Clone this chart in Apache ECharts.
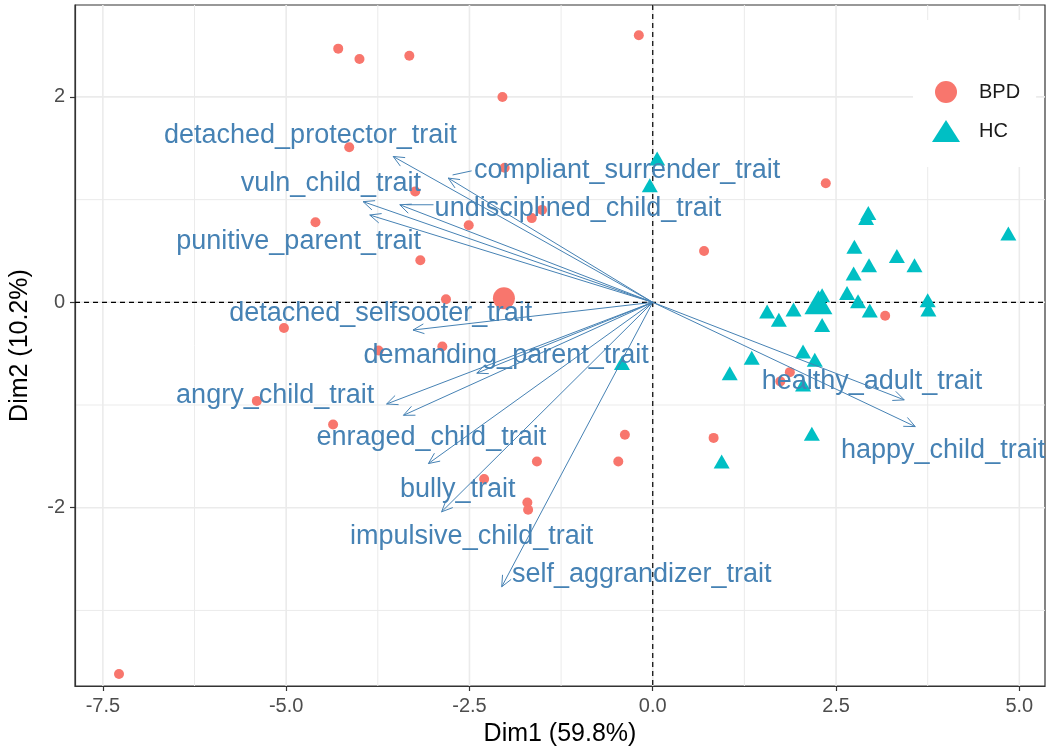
<!DOCTYPE html>
<html>
<head>
<meta charset="utf-8">
<script src="https://cdn.jsdelivr.net/npm/echarts@6/dist/echarts.min.js"></script>
<style>
  html, body { margin: 0; padding: 0; background: #fff; }
  #chart { width: 1047px; height: 752px; }
</style>
</head>
<body>
<div id="chart"></div>
<script>
// PCA biplot: individuals (BPD / HC) and trait variable arrows

const groups = ['BPD', 'HC'];

// individual coordinates [Dim1, Dim2]
const bpdPoints = [
  [-4.29, 2.47], [-4.00, 2.37], [-3.32, 2.40], [-0.19, 2.60], [-2.05, 2.00],
  [-4.14, 1.51], [-2.02, 1.31], [-3.24, 1.08], [2.36, 1.16], [-1.51, 0.90],
  [-1.65, 0.82], [-4.60, 0.78], [-2.51, 0.75], [0.70, 0.50], [-3.17, 0.41],
  [-2.82, 0.03], [-5.03, -0.25], [-2.87, -0.43], [-3.74, -0.47], [3.17, -0.13],
  [1.87, -0.68], [1.74, -0.77], [-5.40, -0.96], [-4.36, -1.19], [-0.38, -1.29],
  [0.83, -1.32], [-1.58, -1.55], [-0.47, -1.55], [-2.30, -1.72], [-1.71, -1.95],
  [-1.70, -2.02], [-7.28, -3.62]
];
const hcPoints = [
  [0.06, 1.40], [-0.04, 1.14], [2.94, 0.87], [2.91, 0.82], [4.85, 0.67],
  [2.75, 0.54], [3.33, 0.45], [2.95, 0.36], [3.57, 0.36], [2.74, 0.28],
  [2.65, 0.09], [2.31, 0.07], [2.80, 0.01], [2.96, -0.08], [3.75, 0.02],
  [3.76, -0.07], [1.56, -0.09], [1.72, -0.17], [1.92, -0.07], [2.31, -0.22],
  [1.35, -0.54], [1.05, -0.69], [2.05, -0.48], [2.21, -0.56], [2.05, -0.80],
  [-0.42, -0.59], [0.94, -1.55], [2.17, -1.28]
];
// group mean points
const bpdMean = [[-2.03, 0.04]];
const hcMean = [[2.26, 0.00]];

// variables: arrow tips and repelled label anchors
const variables = [
  'detached_protector_trait', 'compliant_surrender_trait', 'vuln_child_trait',
  'undisciplined_child_trait', 'punitive_parent_trait', 'detached_selfsooter_trait',
  'demanding_parent_trait', 'angry_child_trait', 'enraged_child_trait', 'bully_trait',
  'impulsive_child_trait', 'self_aggrandizer_trait', 'healthy_adult_trait', 'happy_child_trait'
];
const arrowDim1 = [-3.54, -2.79, -3.95, -3.45, -3.86, -3.27, -2.40, -3.63, -3.40, -3.06, -2.88, -2.06, 3.43, 3.58];
const arrowDim2 = [1.42, 1.21, 0.98, 0.95, 0.85, -0.27, -0.69, -0.99, -1.10, -1.57, -2.04, -2.77, -0.95, -1.21];
const labelDim1 = [-4.67, -0.35, -4.39, -1.02, -4.83, -3.71, -2.00, -5.15, -3.02, -2.66, -2.47, -0.15, 2.99, 3.96];
const labelDim2 = [1.62, 1.28, 1.16, 0.91, 0.59, -0.11, -0.52, -0.91, -1.32, -1.82, -2.28, -2.65, -0.77, -1.44];
// label-to-arrow leader segments [x1, y1, x2, y2]
const leaders = [
  [-2.47, 1.28, -2.73, 1.24],
  [-2.99, 0.95, -3.36, 0.95]
];

// axes
const xTicks = [-7.5, -5.0, -2.5, 0.0, 2.5, 5.0];
const xMinorGrid = [-6.25, -3.75, -1.25, 1.25, 3.75];
const yTicks = [-2, 0, 2];
const yMinorGrid = [-3, -1, 1];
const xTitle = 'Dim1 (59.8%)';
const yTitle = 'Dim2 (10.2%)';

const FONT = '"Liberation Sans", Arial, sans-serif';
const BPD_COLOR = '#F8766D';
const HC_COLOR = '#00BFC4';
const VAR_COLOR = '#4682B4';

const chart = echarts.init(document.getElementById('chart'), null, { renderer: 'canvas' });

function gridLineRender(dir, width) {
  return function (params, api) {
    const cs = params.coordSys;
    const v = api.value(0);
    if (dir === 'v') {
      const x = api.coord([v, 0])[0];
      return { type: 'line', shape: { x1: x, y1: cs.y, x2: x, y2: cs.y + cs.height },
        style: { stroke: '#EBEBEB', lineWidth: width } };
    }
    const y = api.coord([0, v])[1];
    return { type: 'line', shape: { x1: cs.x, y1: y, x2: cs.x + cs.width, y2: y },
      style: { stroke: '#EBEBEB', lineWidth: width } };
  };
}

function zeroLineRender(params, api) {
  const cs = params.coordSys;
  const o = api.coord([0, 0]);
  const st = { stroke: '#000', lineWidth: 1.2, lineDash: [5, 4] };
  return { type: 'group', children: [
    { type: 'line', shape: { x1: o[0], y1: cs.y, x2: o[0], y2: cs.y + cs.height }, style: st },
    { type: 'line', shape: { x1: cs.x, y1: o[1], x2: cs.x + cs.width, y2: o[1] }, style: st }
  ] };
}

function arrowRender(params, api) {
  const o = api.coord([0, 0]);
  const t = api.coord([api.value(0), api.value(1)]);
  const a = Math.atan2(t[1] - o[1], t[0] - o[0]);
  const len = 12, spread = Math.PI / 7.5;
  const p1 = [t[0] - len * Math.cos(a - spread), t[1] - len * Math.sin(a - spread)];
  const p2 = [t[0] - len * Math.cos(a + spread), t[1] - len * Math.sin(a + spread)];
  const st = { stroke: VAR_COLOR, lineWidth: 1, fill: null };
  return { type: 'group', children: [
    { type: 'line', shape: { x1: o[0], y1: o[1], x2: t[0], y2: t[1] }, style: st },
    { type: 'polyline', shape: { points: [p1, t, p2] }, style: st }
  ] };
}

function labelRender(params, api) {
  const p = api.coord([api.value(0), api.value(1)]);
  return { type: 'text', x: p[0], y: p[1],
    style: { text: variables[params.dataIndex], fill: VAR_COLOR, font: '27px ' + FONT,
      align: 'center', verticalAlign: 'middle' } };
}

function leaderRender(params, api) {
  const a = api.coord([api.value(0), api.value(1)]);
  const b = api.coord([api.value(2), api.value(3)]);
  return { type: 'line', shape: { x1: a[0], y1: a[1], x2: b[0], y2: b[1] },
    style: { stroke: VAR_COLOR, lineWidth: 1 } };
}

const option = {
  animation: false,
  backgroundColor: '#fff',
  grid: { left: 75, right: 2, top: 5, bottom: 66, show: true, borderColor: '#333', borderWidth: 1.2, backgroundColor: 'transparent' },
  xAxis: {
    type: 'value', min: -7.88, max: 5.35,
    name: xTitle, nameLocation: 'middle', nameGap: 36,
    nameTextStyle: { fontFamily: FONT, fontSize: 25, color: '#000' },
    axisLine: { show: true, onZero: false, lineStyle: { color: '#333', width: 1.2 } },
    axisTick: { show: true, length: 5, customValues: xTicks, lineStyle: { color: '#333', width: 1.2 } },
    axisLabel: { customValues: xTicks, margin: 10, fontFamily: FONT, fontSize: 20, color: '#4D4D4D',
      formatter: v => Number(v).toFixed(1) },
    splitLine: { show: false }
  },
  yAxis: {
    type: 'value', min: -3.736, max: 2.895,
    name: yTitle, nameLocation: 'middle', nameGap: 42,
    nameTextStyle: { fontFamily: FONT, fontSize: 25, color: '#000' },
    axisLine: { show: true, onZero: false, lineStyle: { color: '#333', width: 1.2 } },
    axisTick: { show: true, length: 5, customValues: yTicks, lineStyle: { color: '#333', width: 1.2 } },
    axisLabel: { customValues: yTicks, margin: 10, fontFamily: FONT, fontSize: 20, color: '#4D4D4D',
      formatter: v => String(Math.round(v)) },
    splitLine: { show: false }
  },
  legend: {
    orient: 'vertical', left: 913, top: 20,
    padding: [61, 16, 25, 19], itemGap: 17, itemWidth: 28, itemHeight: 22,
    backgroundColor: '#fff',
    selectedMode: false,
    textStyle: { fontFamily: FONT, fontSize: 20, color: '#1a1a1a', padding: [0, 0, 0, 14] },
    data: [
      { name: groups[0], icon: 'circle', itemStyle: { color: BPD_COLOR } },
      { name: groups[1], icon: 'triangle', itemStyle: { color: HC_COLOR } }
    ]
  },
  series: [
    { type: 'custom', silent: true, z: 0, renderItem: gridLineRender('v', 1), data: xMinorGrid.map(v => [v]) },
    { type: 'custom', silent: true, z: 0, renderItem: gridLineRender('h', 1), data: yMinorGrid.map(v => [v]) },
    { type: 'custom', silent: true, z: 0, renderItem: gridLineRender('v', 1.6), data: xTicks.map(v => [v]) },
    { type: 'custom', silent: true, z: 0, renderItem: gridLineRender('h', 1.6), data: yTicks.map(v => [v]) },
    { type: 'custom', silent: true, z: 1, renderItem: zeroLineRender, data: [[0, 0]] },
    { name: groups[0], type: 'scatter', z: 3, symbol: 'circle', symbolSize: 10,
      itemStyle: { color: BPD_COLOR, opacity: 1 }, data: bpdPoints },
    { name: groups[1], type: 'scatter', z: 3, symbol: 'triangle', symbolSize: [16, 14],
      itemStyle: { color: HC_COLOR, opacity: 1 }, data: hcPoints },
    { name: groups[0], type: 'scatter', z: 3, symbol: 'circle', symbolSize: 22,
      itemStyle: { color: BPD_COLOR, opacity: 1 }, data: bpdMean },
    { name: groups[1], type: 'scatter', z: 3, symbol: 'triangle', symbolSize: [28, 24],
      itemStyle: { color: HC_COLOR, opacity: 1 }, data: hcMean },
    { type: 'custom', silent: true, z: 5, renderItem: arrowRender,
      data: arrowDim1.map((x, i) => [x, arrowDim2[i]]) },
    { type: 'custom', silent: true, z: 5, renderItem: leaderRender, data: leaders },
    { type: 'custom', silent: true, z: 6, renderItem: labelRender,
      data: labelDim1.map((x, i) => [x, labelDim2[i]]) }
  ]
};

chart.setOption(option);
</script>
</body>
</html>
